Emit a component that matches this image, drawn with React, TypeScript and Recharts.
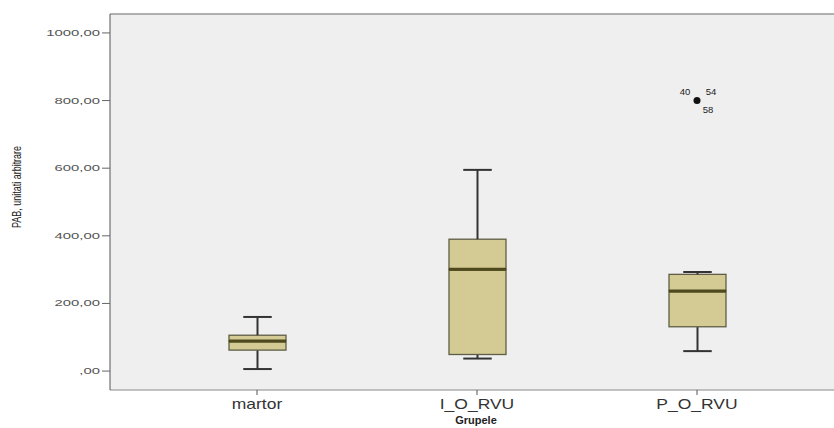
import { Bar, CartesianGrid, ComposedChart, Label, Line, ReferenceLine, XAxis, YAxis } from 'recharts'

const groups = ['martor', 'I_O_RVU', 'P_O_RVU']
const minimum = [6, 37, 59]
const lowerQuartile = [62, 49, 131]
const median = [89, 301, 237]
const upperQuartile = [106, 390, 286]
const maximum = [160, 595, 293]
const outliers = [null, null, 800]
const outlierIds = ['40', '54', '58']
const yTicks = [0, 200, 400, 600, 800, 1000]
const yDomain = [-56, 1056]

const rows = groups.map((group, i) => ({
  group,
  base: minimum[i],
  lowWhisker: lowerQuartile[i] - minimum[i],
  lowBox: median[i] - lowerQuartile[i],
  highBox: upperQuartile[i] - median[i],
  highWhisker: maximum[i] - upperQuartile[i],
  outlier: outliers[i],
}))

const BOX_FILL = '#d4ca93'
const BOX_STROKE = '#5e5e46'
const MEDIAN = '#4e4a1e'
const WHISKER = '#333333'
const FONT = '"Liberation Sans", Arial, sans-serif'

const Empty = () => <g />

function LowWhisker(props: any) {
  const { x, y, width, height } = props
  const cx = x + width / 2
  const bottom = y + height
  return (
    <g>
      <line x1={cx} x2={cx} y1={y} y2={bottom} stroke={WHISKER} strokeWidth={2} />
      <line x1={cx - width / 4} x2={cx + width / 4} y1={bottom} y2={bottom} stroke={WHISKER} strokeWidth={2} />
    </g>
  )
}

function HighWhisker(props: any) {
  const { x, y, width, height } = props
  const cx = x + width / 2
  return (
    <g>
      <line x1={cx} x2={cx} y1={y} y2={y + height} stroke={WHISKER} strokeWidth={2} />
      <line x1={cx - width / 4} x2={cx + width / 4} y1={y} y2={y} stroke={WHISKER} strokeWidth={2} />
    </g>
  )
}

function LowBox(props: any) {
  const { x, y, width, height } = props
  return (
    <g>
      <rect x={x} y={y} width={width} height={height} fill={BOX_FILL} stroke={BOX_STROKE} strokeWidth={1.3} />
      <line x1={x} x2={x + width} y1={y} y2={y} stroke={MEDIAN} strokeWidth={3} />
    </g>
  )
}

function HighBox(props: any) {
  const { x, y, width, height } = props
  return (
    <g>
      <rect x={x} y={y} width={width} height={height} fill={BOX_FILL} stroke={BOX_STROKE} strokeWidth={1.3} />
      <line x1={x} x2={x + width} y1={y + height} y2={y + height} stroke={MEDIAN} strokeWidth={3} />
    </g>
  )
}

function OutlierDot(props: any) {
  const { cx, cy, value, index } = props
  if (value == null || cx == null || cy == null) return <g key={`o-${index}`} />
  const text = { fontSize: 9.5, fill: '#222', fontFamily: FONT }
  return (
    <g key={`o-${index}`}>
      <circle cx={cx} cy={cy} r={3.5} fill="#111" />
      <text x={cx - 12} y={cy - 6} textAnchor="middle" {...text}>{outlierIds[0]}</text>
      <text x={cx + 14} y={cy - 6} textAnchor="middle" {...text}>{outlierIds[1]}</text>
      <text x={cx + 11} y={cy + 12} textAnchor="middle" {...text}>{outlierIds[2]}</text>
    </g>
  )
}

function YTick(props: any) {
  const { x, y, payload } = props
  const label = payload.value === 0 ? ',00' : `${payload.value},00`
  return (
    <g transform={`translate(${x},${y})`}>
      <text transform="scale(1.75,1)" textAnchor="end" dy={3} fontSize={8.5} fill="#555" fontFamily={FONT}>
        {label}
      </text>
    </g>
  )
}

function XTick(props: any) {
  const { x, y, payload } = props
  return (
    <g transform={`translate(${x},${y})`}>
      <text transform="scale(1.25,1)" textAnchor="middle" dy={12} fontSize={14} fill="#333" fontFamily={FONT}>
        {payload.value}
      </text>
    </g>
  )
}

export default function App() {
  return (
    <div style={{ position: 'absolute', left: 0, top: 0, width: 834, height: 428, overflow: 'hidden', background: '#fff' }}>
      <ComposedChart width={850} height={428} data={rows} margin={{ top: 14, right: 0, bottom: 0, left: 0 }}>
        <CartesianGrid fill="#efefef" horizontal={false} vertical={false} />
        <ReferenceLine y={yDomain[1]} stroke="#999" strokeWidth={1.5} />
        <XAxis
          dataKey="group"
          height={38}
          padding={{ left: 37, right: 43 }}
          axisLine={{ stroke: '#888' }}
          tickLine={{ stroke: '#555' }}
          tickSize={5}
          tick={<XTick />}
        >
          <Label
            content={({ viewBox }: any) => (
              <text
                x={viewBox.x + viewBox.width / 2 - 4}
                y={viewBox.y + 34}
                textAnchor="middle"
                fontSize={11}
                fontWeight="bold"
                fill="#222"
                fontFamily={FONT}
              >
                Grupele
              </text>
            )}
          />
        </XAxis>
        <YAxis
          type="number"
          domain={yDomain}
          ticks={yTicks}
          allowDataOverflow
          width={110}
          axisLine={{ stroke: '#555' }}
          tickLine={{ stroke: '#666' }}
          tickSize={8}
          tick={<YTick />}
        >
          <Label
            content={({ viewBox }: any) => {
              const cx = viewBox.x + 21
              const cy = viewBox.y + viewBox.height / 2 - 15
              return (
                <text
                  transform={`translate(${cx},${cy}) rotate(-90) scale(1,1.45)`}
                  textAnchor="middle"
                  fontSize={9}
                  fill="#222"
                  fontFamily={FONT}
                >
                  PAB, unitati arbitrare
                </text>
              )
            }}
          />
        </YAxis>
        <Bar dataKey="base" stackId="box" barSize={57} shape={Empty} isAnimationActive={false} />
        <Bar dataKey="lowWhisker" stackId="box" barSize={57} shape={LowWhisker} isAnimationActive={false} />
        <Bar dataKey="lowBox" stackId="box" barSize={57} shape={LowBox} isAnimationActive={false} />
        <Bar dataKey="highBox" stackId="box" barSize={57} shape={HighBox} isAnimationActive={false} />
        <Bar dataKey="highWhisker" stackId="box" barSize={57} shape={HighWhisker} isAnimationActive={false} />
        <Line dataKey="outlier" stroke="none" dot={OutlierDot} activeDot={false} isAnimationActive={false} />
      </ComposedChart>
    </div>
  )
}
